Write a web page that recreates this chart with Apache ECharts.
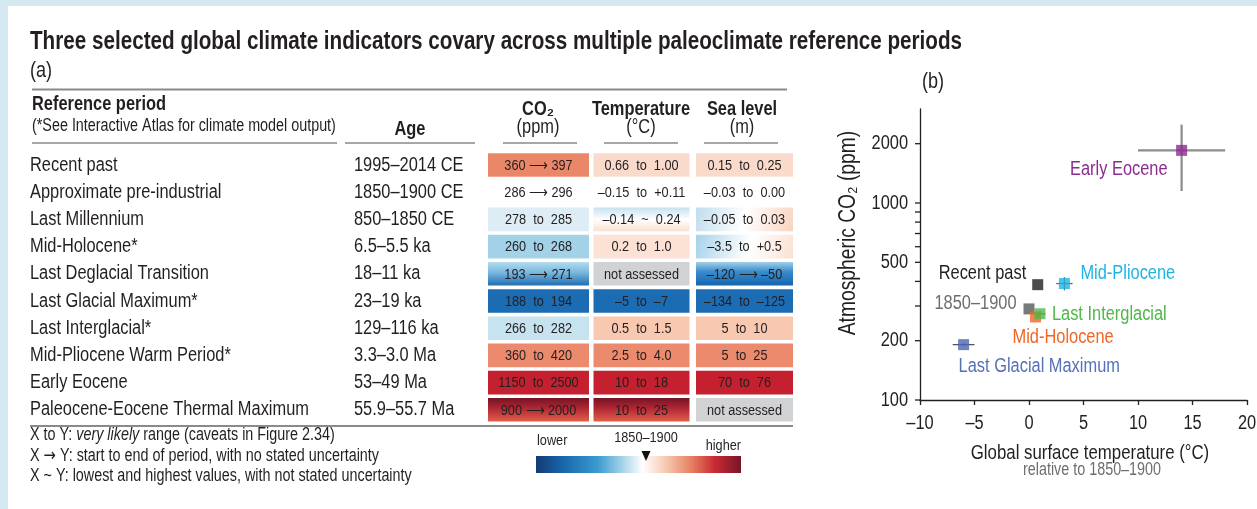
<!DOCTYPE html>
<html>
<head>
<meta charset="utf-8">
<script src="https://cdn.jsdelivr.net/npm/echarts@6/dist/echarts.min.js"></script>
<style>
html, body { margin: 0; padding: 0; background: #fff; }
#main { width: 1257px; height: 509px; }
</style>
</head>
<body>
<div id="main"></div>
<script>
// ---------- data (a): table ----------
var periods = ['Recent past', 'Approximate pre-industrial', 'Last Millennium', 'Mid-Holocene*',
  'Last Deglacial Transition', 'Last Glacial Maximum*', 'Last Interglacial*',
  'Mid-Pliocene Warm Period*', 'Early Eocene', 'Paleocene-Eocene Thermal Maximum'];
var ages = ['1995–2014 CE', '1850–1900 CE', '850–1850 CE', '6.5–5.5 ka', '18–11 ka',
  '23–19 ka', '129–116 ka', '3.3–3.0 Ma', '53–49 Ma', '55.9–55.7 Ma'];
var indicators = ['CO₂', 'Temperature', 'Sea level'];
var co2Text = ['360 ⟶ 397', '286 ⟶ 296', '278  to  285', '260  to  268', '193 ⟶ 271',
  '188  to  194', '266  to  282', '360  to  420', '1150  to  2500', '900 ⟶ 2000'];
var tempText = ['0.66  to  1.00', '–0.15  to  +0.11', '–0.14  ~  0.24', '0.2  to  1.0', 'not assessed',
  '–5  to  –7', '0.5  to  1.5', '2.5  to  4.0', '10  to  18', '10  to  25'];
var seaText = ['0.15  to  0.25', '–0.03  to  0.00', '–0.05  to  0.03', '–3.5  to  +0.5', '–120 ⟶ –50',
  '–134  to  –125', '5  to  10', '5  to  25', '70  to  76', 'not assessed'];

// ---------- data (b): scatter ----------
var ptNames = ['Early Eocene', 'Recent past', '1850–1900', 'Mid-Holocene', 'Last Interglacial',
  'Mid-Pliocene', 'Last Glacial Maximum'];
var ptTemp = [14, 0.8, 0, 0.6, 1.0, 3.25, -6];
var ptCO2 = [1850, 385, 290, 264, 274, 390, 191];
var errNames = ['Early Eocene', 'Mid-Pliocene', 'Last Interglacial', 'Last Glacial Maximum'];
var errTempLo = [10, 2.5, 0.5, -7];
var errTempHi = [18, 4.0, 1.5, -5];
var errCO2Lo = [1150, 360, 266, 188];
var errCO2Hi = [2500, 420, 282, 194];
var xTickLabels = [-10, -5, 0, 5, 10, 15, 20];
var yTickMajor = [100, 200, 500, 1000, 2000];
var yTickMinor = [300, 400, 600, 700, 800, 900];
var X_MIN = -10, X_MAX = 20, Y_MIN = 100, Y_MAX = 3000;

// ---------- fonts: no narrow face installed, so squeeze Liberation Sans ----------
var FONT = '"Liberation Sans", Arial, sans-serif';
var SX = 0.82;
var TXT = '#231f20';
var RULE = '#8a8a8a';

// ---------- styles ----------
function grad(x, y, x2, y2, stops) {
  return { type: 'linear', x: x, y: y, x2: x2, y2: y2, global: false,
    colorStops: stops.map(function (s) { return { offset: s[0], color: s[1] }; }) };
}
var petm = grad(0, 0, 0, 1, [[0, '#741325'], [0.45, '#b02934'], [1, '#e55f4a']]);
var cellFill = [
  ['#ea8769', '#fadbcb', '#fadbcb'],
  ['#ffffff', '#ffffff', '#ffffff'],
  ['#ddecf5', grad(0, 0, 0, 1, [[0, '#c6e1f0'], [0.5, '#ffffff'], [1, '#fbdfd1']]),
    grad(0, 0, 1, 1, [[0, '#c0ddee'], [0.5, '#ffffff'], [1, '#f9d3c1']])],
  ['#a2d1e8', '#fce2d5', grad(0, 0, 1, 1, [[0, '#a6d3ea'], [0.55, '#ffffff'], [1, '#fbe1d4']])],
  [grad(0, 0, 0, 1, [[0, '#b4dbee'], [0.45, '#78b7de'], [1, '#1f6db3']]), '#d1d2d4',
    grad(0, 0, 0, 1, [[0, '#a3d0ea'], [0.4, '#3b8ccb'], [1, '#1464af']])],
  ['#1c6cb4', '#1c6cb4', '#1c6cb4'],
  ['#c7e3f0', '#f9c8b1', '#f9c8b1'],
  ['#eb8a6c', '#eb8a6c', '#eb8a6c'],
  ['#c4202f', '#c4202f', '#c4202f'],
  [petm, petm, '#d1d2d4']
];
var CELL_W = [101, 96, 97];
var NAME_X = 30, AGE_X = 354;
var PT_COLOR = ['#8b2b8f', '#231f20', '#58595b', '#f26522', '#4db848', '#1cb4e3', '#4a67b1'];
var LBL_COLOR = ['#8b2b8f', '#231f20', '#6d6e71', '#f26522', '#4db848', '#1cb4e3', '#5571b8'];
// label placement relative to each point: [align, dx, dy]
var LBL_POS = [['right', -14, 19], ['right', -11.5, -11], ['right', -12.5, -5], ['left', -23, 21],
  ['left', 12, 1], ['left', 16, -10], ['left', -5, 22]];
var ERR_STYLE = [['#8c8c8c', 2.2], ['#666666', 1.3], ['#666666', 1.3], ['#555555', 1.3]];

// ---------- series data ----------
var cellText = [co2Text, tempText, seaText];
var cellData = [];
for (var c = 0; c < indicators.length; c++) {
  for (var r = 0; r < periods.length; r++) cellData.push([c, r]);
}
var rowData = periods.map(function (p, i) { return [0, i]; });
var ptData = ptNames.map(function (n, i) { return [ptTemp[i], ptCO2[i]]; });
var scatterData = ptNames.map(function (n, i) {
  return { name: n, value: [ptTemp[i], ptCO2[i]], itemStyle: { color: PT_COLOR[i] } };
});
var errData = errNames.map(function (n, i) {
  var k = ptNames.indexOf(n);
  return [errTempLo[i], errTempHi[i], errCO2Lo[i], errCO2Hi[i], ptTemp[k], ptCO2[k]];
});
var yTickData = yTickMajor.map(function (v) { return [X_MIN, v, 1]; })
  .concat(yTickMinor.map(function (v) { return [X_MIN, v, 0]; }));
var xLabelData = xTickLabels.map(function (v) { return [v, Y_MIN]; });

// ---------- text helpers ----------
function tstyle(text, size, extra) {
  var st = { text: text, fontSize: size, fontFamily: FONT, fill: TXT,
    align: 'left', textAlign: 'left', verticalAlign: 'middle', textVerticalAlign: 'middle' };
  for (var key in extra) st[key] = extra[key];
  return st;
}
function txt(x, y, text, size, extra) {
  return { type: 'text', x: x, y: y, scaleX: SX, silent: true, style: tstyle(text, size, extra) };
}
function center(x, y, text, size, extra) {
  var e = txt(x, y, text, size, extra);
  e.style.align = e.style.textAlign = 'center';
  return e;
}
function right(x, y, text, size, extra) {
  var e = txt(x, y, text, size, extra);
  e.style.align = e.style.textAlign = 'right';
  return e;
}
function rule(x1, y1, x2, y2, w, col) {
  return { type: 'line', silent: true, shape: { x1: x1, y1: y1, x2: x2, y2: y2 },
    style: { stroke: col || RULE, lineWidth: w || 1.5 } };
}

var yName = center(849, 233, 'Atmospheric CO₂ (ppm)', 23.5);
yName.rotation = Math.PI / 2;
var note1 = txt(30, 435, '{n|X to Y: }{i|very likely}{n| range (caveats in Figure 2.34)}', 17.5, {
  rich: { n: { fontSize: 17.5, fontFamily: FONT, fill: TXT, color: TXT },
          i: { fontSize: 17.5, fontFamily: FONT, fill: TXT, color: TXT, fontStyle: 'italic' } } });
var note2 = txt(30, 456, '{n|X }{a|→}{n| Y: start to end of period, with no stated uncertainty}', 17.5, {
  rich: { n: { fontSize: 17.5, fontFamily: FONT, fill: TXT, color: TXT },
          a: { fontSize: 18, fontFamily: '"DejaVu Sans", sans-serif', fill: TXT, color: TXT } } });

var graphics = [
  { type: 'rect', silent: true, shape: { x: 0, y: 0, width: 1257, height: 6 }, style: { fill: '#d4e9f1' } },
  { type: 'rect', silent: true, shape: { x: 0, y: 0, width: 8, height: 509 }, style: { fill: '#d4e9f1' } },
  txt(30, 42, 'Three selected global climate indicators covary across multiple paleoclimate reference periods', 25.2, { fontWeight: 'bold' }),
  txt(30, 71, '(a)', 22),
  center(933, 82, '(b)', 22),
  rule(32, 89.5, 787, 89.5, 2),
  txt(32, 104.5, 'Reference period', 20, { fontWeight: 'bold' }),
  txt(32, 126, '(*See Interactive Atlas for climate model output)', 17.5),
  center(410, 129, 'Age', 20, { fontWeight: 'bold' }),
  center(538, 109, 'CO₂', 20, { fontWeight: 'bold' }),
  center(538, 127, '(ppm)', 20),
  center(641, 109, 'Temperature', 20, { fontWeight: 'bold' }),
  center(641, 127, '(°C)', 20),
  center(742, 109, 'Sea level', 20, { fontWeight: 'bold' }),
  center(742, 127, '(m)', 20),
  rule(32, 143, 337, 143), rule(345, 143, 475, 143), rule(503, 143, 577, 143),
  rule(604, 143, 678, 143), rule(704, 143, 778, 143),
  rule(30, 426, 793, 426, 2),
  note1, note2,
  txt(30, 476, 'X ~ Y: lowest and highest values, with not stated uncertainty', 17.5),
  { type: 'rect', silent: true, shape: { x: 536, y: 456, width: 205, height: 17 },
    style: { fill: grad(0, 0, 1, 0, [[0, '#123a72'], [0.14, '#1a69ad'], [0.3, '#3a9bd0'], [0.42, '#a4d2e8'],
      [0.52, '#ffffff'], [0.64, '#f6c5ad'], [0.76, '#e77f62'], [0.87, '#c92a33'], [1, '#771628']]) } },
  { type: 'polygon', silent: true, shape: { points: [[641.5, 451], [650.5, 451], [646, 461]] }, style: { fill: '#111' } },
  txt(537, 441, 'lower', 15.5),
  center(646, 438, '1850–1900', 15.5),
  right(741, 446, 'higher', 15.5),
  yName,
  center(1090, 453, 'Global surface temperature (°C)', 20.5),
  center(1092, 470, 'relative to 1850–1900', 17.5, { fill: '#6d6e71' })
];

// ---------- chart ----------
var chart = echarts.init(document.getElementById('main'), null, { width: 1257, height: 509 });
var option = {
  backgroundColor: '#ffffff',
  animation: false,
  grid: [
    { left: 487, top: 151.4, width: 309, height: 272, outerBoundsMode: 'none', containLabel: false },
    { left: 920, top: 109, width: 327, height: 291, outerBoundsMode: 'none', containLabel: false }
  ],
  xAxis: [
    { gridIndex: 0, type: 'category', data: indicators, show: false },
    { gridIndex: 1, type: 'value', min: X_MIN, max: X_MAX, interval: 5,
      axisLine: { lineStyle: { color: TXT, width: 1.3 } },
      axisTick: { length: 5, lineStyle: { color: TXT, width: 1.3 } },
      axisLabel: { show: false }, splitLine: { show: false } }
  ],
  yAxis: [
    { gridIndex: 0, type: 'category', data: periods, inverse: true, show: false },
    { gridIndex: 1, type: 'log', logBase: 10, min: Y_MIN, max: Y_MAX,
      axisLine: { onZero: false, lineStyle: { color: TXT, width: 1.3 } },
      axisTick: { show: false }, axisLabel: { show: false }, splitLine: { show: false },
      minorTick: { show: false }, minorSplitLine: { show: false } }
  ],
  series: [
    // row names and ages, placed on the table's row scale
    { type: 'custom', name: 'rows', xAxisIndex: 0, yAxisIndex: 0, data: rowData, silent: true, clip: false,
      renderItem: function (params, api) {
        var row = api.value(1);
        var y = api.coord([0, row])[1];
        return { type: 'group', children: [
          { type: 'text', x: NAME_X, y: y, scaleX: SX, style: tstyle(periods[row], 20) },
          { type: 'text', x: AGE_X, y: y, scaleX: SX, style: tstyle(ages[row], 20) }
        ] };
      } },
    { type: 'custom', name: 'cells', xAxisIndex: 0, yAxisIndex: 0, data: cellData, silent: true,
      renderItem: function (params, api) {
        var col = api.value(0), row = api.value(1);
        var p = api.coord([col, row]);
        var band = api.size([1, 1]);
        var w = CELL_W[col], h = band[1] - 3.6;
        return { type: 'group', children: [
          { type: 'rect', shape: { x: p[0] - w / 2, y: p[1] - h / 2, width: w, height: h },
            style: { fill: cellFill[row][col] } },
          { type: 'text', x: p[0], y: p[1] + 0.5, scaleX: SX,
            style: tstyle(cellText[col][row], 15.5, { align: 'center', textAlign: 'center' }) }
        ] };
      } },
    { type: 'custom', name: 'yticks', xAxisIndex: 1, yAxisIndex: 1, data: yTickData, silent: true, clip: false,
      renderItem: function (params, api) {
        var v = api.value(1);
        var p = api.coord([api.value(0), v]);
        var kids = [{ type: 'line', shape: { x1: p[0] - 5, y1: p[1], x2: p[0], y2: p[1] },
          style: { stroke: TXT, lineWidth: 1.3 } }];
        if (api.value(2) === 1) {
          kids.push({ type: 'text', x: p[0] - 12, y: p[1], scaleX: SX,
            style: tstyle(String(v), 20, { align: 'right', textAlign: 'right' }) });
        }
        return { type: 'group', children: kids };
      } },
    { type: 'custom', name: 'xlabels', xAxisIndex: 1, yAxisIndex: 1, data: xLabelData, silent: true, clip: false,
      renderItem: function (params, api) {
        var v = api.value(0);
        var p = api.coord([v, api.value(1)]);
        return { type: 'text', x: p[0], y: p[1] + 23.5, scaleX: SX,
          style: tstyle(v < 0 ? '–' + (-v) : String(v), 20, { align: 'center', textAlign: 'center' }) };
      } },
    { type: 'custom', name: 'errorbars', xAxisIndex: 1, yAxisIndex: 1, data: errData, silent: true, z: 2,
      renderItem: function (params, api) {
        var st = ERR_STYLE[params.dataIndex];
        var a = api.coord([api.value(0), api.value(5)]);
        var b = api.coord([api.value(1), api.value(5)]);
        var c = api.coord([api.value(4), api.value(2)]);
        var d = api.coord([api.value(4), api.value(3)]);
        var style = { stroke: st[0], lineWidth: st[1] };
        return { type: 'group', children: [
          { type: 'line', shape: { x1: a[0], y1: a[1], x2: b[0], y2: b[1] }, style: style },
          { type: 'line', shape: { x1: c[0], y1: c[1], x2: d[0], y2: d[1] }, style: style }
        ] };
      } },
    { type: 'scatter', name: 'periods', xAxisIndex: 1, yAxisIndex: 1, z: 3, silent: true,
      symbol: 'rect', symbolSize: 11, data: scatterData },
    { type: 'custom', name: 'pointlabels', xAxisIndex: 1, yAxisIndex: 1, data: ptData, silent: true, z: 4, clip: false,
      renderItem: function (params, api) {
        var i = params.dataIndex, lp = LBL_POS[i];
        var p = api.coord([api.value(0), api.value(1)]);
        return { type: 'text', x: p[0] + lp[1], y: p[1] + lp[2], scaleX: SX,
          style: tstyle(ptNames[i], 20, { align: lp[0], textAlign: lp[0], fill: LBL_COLOR[i] }) };
      } }
  ],
  graphic: { elements: graphics }
};
chart.setOption(option);
</script>
</body>
</html>
